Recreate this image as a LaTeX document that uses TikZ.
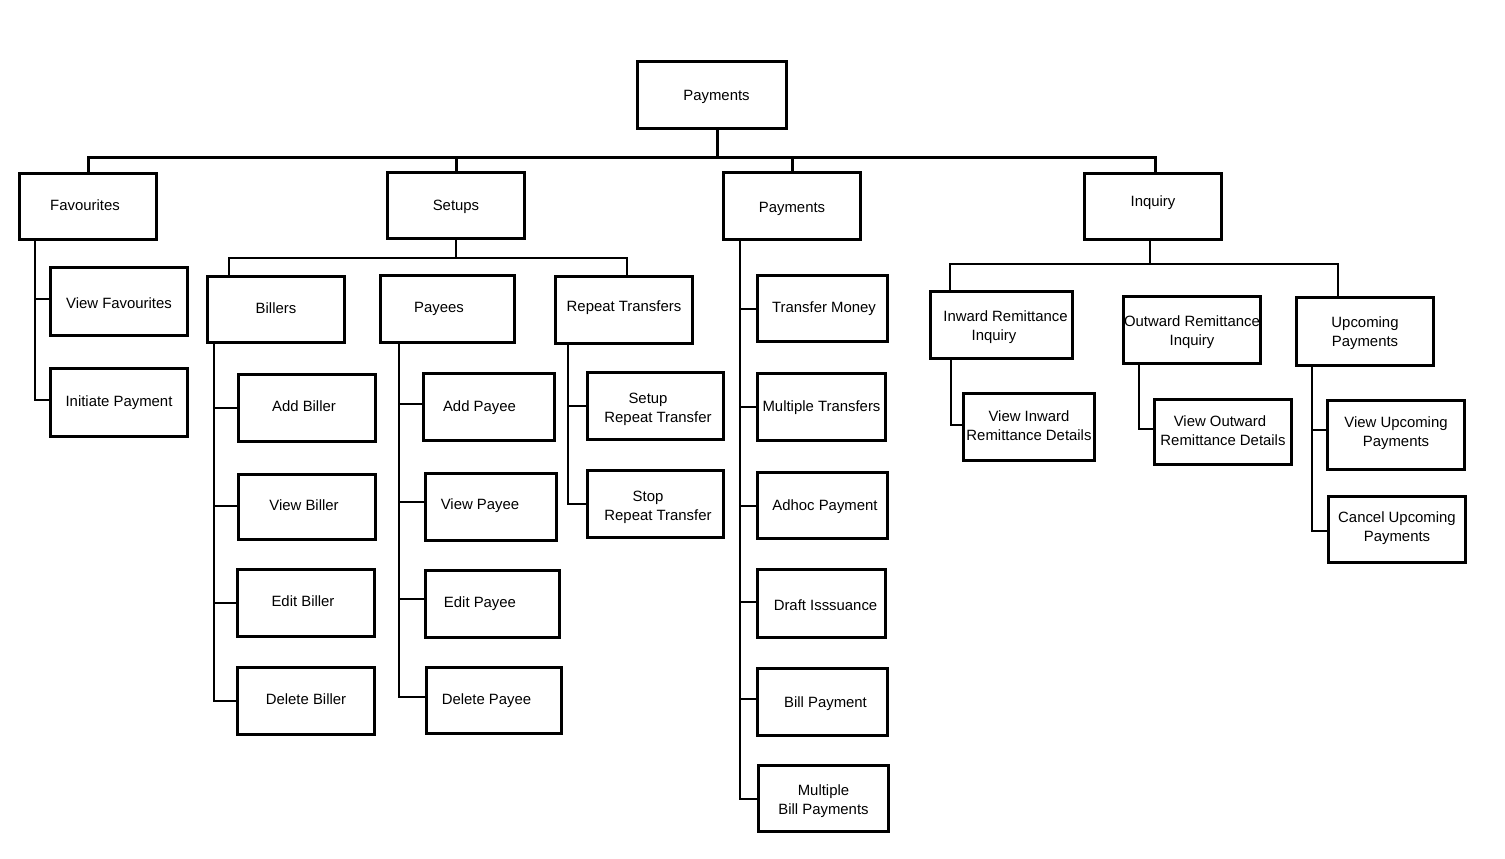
\documentclass[tikz,border=0pt]{standalone}
\usepackage{fontspec}
\setmainfont{Liberation Sans}
\newcommand\tsh[1]{\hspace*{#1pt}}
\newcommand\trl[1]{\rule{#1pt}{0pt}}
% strut: baseline 5pt below the centre of a one-line box
\newcommand\st{\rule[-3.5pt]{0pt}{13.5pt}}
% move text down / up by #1 pt
\newcommand\sd[1]{\rule[-3.5pt]{0pt}{\dimexpr13.5pt+#1pt*2\relax}}
\newcommand\su[1]{\rule[\dimexpr-3.5pt-#1pt*2\relax]{0pt}{13.5pt}}
\newcommand\bx[6]{\node[box,minimum width={#4-#2-3},minimum height={#5-#3-3}] (#1) at ({(#2+#4)/2},{(#3+#5)/2}) {#6};}
\begin{document}
\begin{tikzpicture}[x=1pt,y=-1pt,
  box/.style={draw, line width=3pt, inner sep=0pt, outer sep=0pt, align=center, fill=white,
    font=\fontsize{14.9}{19}\selectfont},
  conn/.style={line width=2pt},
  mainc/.style={line width=3pt}]
\useasboundingbox[fill=white] (0,0) rectangle (1505,859);
% level 0
\bx{top}{636}{60}{788}{130}{\sd{2.5}\tsh{9}Payments}
% level 1
\bx{fav}{18}{172}{158}{241}{\sd{1}\tsh{-6}Favourites}
\bx{setups}{386}{171}{526}{240}{\sd{1.5}Setups}
\bx{pay}{722}{171}{862}{241}{\sd{3.5}Payments}
\bx{inq}{1083}{172}{1223}{241}{\su{3.5}Inquiry}
% favourites children
\bx{vf}{49}{266}{189}{337}{\sd{3.5}View Favourites}
\bx{ip}{49}{367}{189}{438}{\st Initiate Payment}
% setups children
\bx{billers}{206}{275}{346}{344}{\st Billers}
\bx{payees}{379}{274}{516}{344}{\st\tsh{-17}Payees}
\bx{rt}{554}{275}{694}{345}{\su{2.5}Repeat Transfers}
\bx{ab}{237}{373}{377}{443}{\st\tsh{-6}Add Biller}
\bx{vb}{237}{473}{377}{541}{\st\tsh{-6}View Biller}
\bx{eb}{236}{568}{376}{638}{\st\tsh{-6}Edit Biller}
\bx{db}{236}{666}{376}{736}{\st Delete Biller}
\bx{ap}{422}{372}{556}{442}{\sd{1}\tsh{-19}Add Payee}
\bx{vp}{424}{472}{558}{542}{\su{1.5}\tsh{-22}View Payee}
\bx{ep}{424}{569}{561}{639}{\st\tsh{-25}Edit Payee}
\bx{dp}{425}{666}{563}{735}{\st\tsh{-15}Delete Payee}
\bx{srt}{586}{371}{725}{441}{\sd{4}Setup\trl{15}\\\tsh{5}Repeat Transfer\st}
\bx{strt}{586}{469}{725}{539}{\sd{4}Stop\trl{15}\\\tsh{5}Repeat Transfer\st}
% payments children
\bx{tm}{756}{274}{889}{343}{\st\tsh{3}Transfer Money}
\bx{mt}{756}{372}{887}{442}{\sd{1}Multiple Transfers}
\bx{ah}{756}{471}{889}{540}{\sd{2}\tsh{5}Adhoc Payment}
\bx{di}{756}{568}{887}{639}{\sd{4}\tsh{8}Draft Isssuance}
\bx{bp}{756}{667}{889}{737}{\sd{2}\tsh{6}Bill Payment}
\bx{mbp}{757}{764}{890}{833}{\sd{3}Multiple\\Bill Payments\st}
% inquiry children
\bx{inw}{929}{290}{1074}{360}{\sd{2.5}\tsh{8}Inward Remittance\\Inquiry\trl{15}\st}
\bx{outw}{1122}{295}{1262}{365}{\sd{3}Outward Remittance\\Inquiry\st}
\bx{upc}{1295}{296}{1435}{367}{\sd{2}Upcoming\\Payments\st}
\bx{vi}{962}{392}{1096}{462}{\st View Inward\\Remittance Details\st}
\bx{vo}{1153}{398}{1293}{466}{\st View Outward\trl{6}\\Remittance Details\st}
\bx{vu}{1326}{399}{1466}{471}{\st View Upcoming\\Payments\su{2}}
\bx{cu}{1327}{495}{1467}{564}{\st Cancel Upcoming\\Payments\su{1.5}}
% junction coordinates
\coordinate (busR) at (1155,157);
\coordinate (sbL) at (229,258);
\coordinate (sbR) at (627,258);
\coordinate (ibL) at (950,264);
\coordinate (ibR) at (1338,264);
\coordinate (tj) at ([xshift=5]top.south);
\coordinate (ij) at ([xshift=-3]inq.south);
% main bus
\draw[mainc] (fav.north) |- (busR) -- (busR |- inq.north);
\draw[mainc] (tj) -- (tj |- busR);
\draw[mainc] (setups.north) -- (setups.north |- busR);
\draw[mainc] (pay.north) -- (pay.north |- busR);
% setups bus
\draw[conn] (setups.south) -- (setups.south |- sbL);
\draw[conn] (billers.north -| sbL) -- (sbL) -- (sbR) -- (rt.north -| sbR);
% inquiry bus
\draw[conn] (ij) -- (ij |- ibL);
\draw[conn] (inw.north -| ibL) -- (ibL) -- (ibR) -- (upc.north -| ibR);
% favourites
\draw[conn] ([xshift=15]fav.south west) |- ([yshift=2.5]ip.west);
\draw[conn] ([xshift=15]fav.south west) |- ([yshift=2.5]vf.west);
% billers
\draw[conn] ([xshift=6.5]billers.south west) |- (db.west);
\draw[conn] ([xshift=6.5]billers.south west) |- (eb.west);
\draw[conn] ([xshift=6.5]billers.south west) |- ([yshift=1.5]vb.west);
\draw[conn] ([xshift=6.5]billers.south west) |- (ab.west);
% payees
\draw[conn] ([xshift=18.5]payees.south west) |- ([yshift=3.5]dp.west);
\draw[conn] ([xshift=18.5]payees.south west) |- ([yshift=5]ep.west);
\draw[conn] ([xshift=18.5]payees.south west) |- ([yshift=5]vp.west);
\draw[conn] ([xshift=18.5]payees.south west) |- ([yshift=3]ap.west);
% repeat transfers
\draw[conn] ([xshift=12.5]rt.south west) |- (strt.west);
\draw[conn] ([xshift=12.5]rt.south west) |- (srt.west);
% payments
\draw[conn] ([xshift=16.5]pay.south west) |- (mbp.west);
\draw[conn] ([xshift=16.5]pay.south west) |- ([yshift=3]bp.west);
\draw[conn] ([xshift=16.5]pay.south west) |- ([yshift=1.5]di.west);
\draw[conn] ([xshift=16.5]pay.south west) |- (ah.west);
\draw[conn] ([xshift=16.5]pay.south west) |- (mt.west);
\draw[conn] ([xshift=16.5]pay.south west) |- (tm.west);
% inquiry children
\draw[conn] ([xshift=20.5]inw.south west) |- ([yshift=2]vi.west);
\draw[conn] ([xshift=15.5]outw.south west) |- ([yshift=3]vo.west);
\draw[conn] ([xshift=15.5]upc.south west) |- ([yshift=-1.5]cu.west);
\draw[conn] ([xshift=15.5]upc.south west) |- ([yshift=5]vu.west);
\end{tikzpicture}
\end{document}
